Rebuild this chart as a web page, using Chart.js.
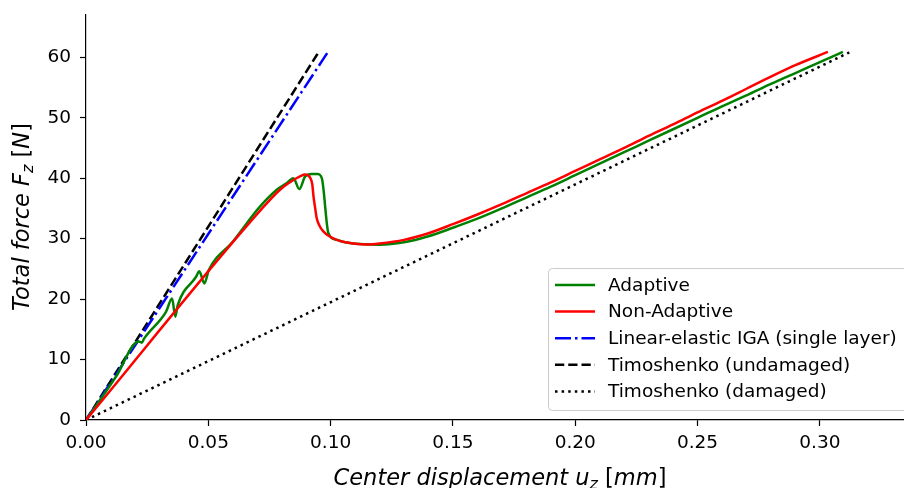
<!DOCTYPE html>
<html>
<head>
<meta charset="utf-8">
<script src="https://cdn.jsdelivr.net/npm/chart.js@4.4.0/dist/chart.umd.min.js"></script>
<style>
  html, body { margin: 0; padding: 0; background: #fff; }
  #wrap { width: 904px; height: 488px; }
</style>
</head>
<body>
<div id="wrap"><canvas id="forceChart" width="904" height="488"></canvas></div>
<script>
// values (x in mm, y in N)
const adaptiveX = [0, 0.0123, 0.0215, 0.0228, 0.0238, 0.0327, 0.0352, 0.0365, 0.0375, 0.045, 0.0463, 0.0484, 0.0502,
  0.06, 0.0711, 0.078, 0.0821, 0.0848, 0.0872, 0.0896, 0.0923, 0.0946, 0.0964, 0.0991, 0.1025, 0.106, 0.112, 0.12,
  0.13, 0.14, 0.15, 0.16, 0.17, 0.18, 0.19, 0.20, 0.21, 0.22, 0.23, 0.24, 0.25, 0.26, 0.27, 0.28, 0.29, 0.30, 0.3094];
const adaptiveY = [0, 7.2, 13.0, 12.8, 13.5, 17.9, 20.1, 17.1, 19.0, 23.7, 24.6, 22.6, 24.8,
  29.5, 35.3, 38.1, 39.2, 40.0, 38.2, 40.3, 40.7, 40.7, 40.0, 30.9, 29.8, 29.4, 29.1, 29.0,
  29.4, 30.4, 31.8, 33.3, 35.0, 36.8, 38.6, 40.5, 42.4, 44.3, 46.2, 48.1, 50.0, 51.9, 53.7, 55.6, 57.4, 59.2, 60.9];

const nonAdaptiveX = [0, 0.072, 0.0793, 0.0848, 0.0875, 0.0896, 0.0916, 0.0925, 0.093, 0.0937, 0.0943, 0.0955, 0.097,
  0.0995, 0.1025, 0.106, 0.11, 0.115, 0.12, 0.13, 0.14, 0.15, 0.16, 0.17, 0.18, 0.19, 0.20, 0.21, 0.22, 0.23, 0.24,
  0.25, 0.26, 0.27, 0.28, 0.29, 0.3033];
const nonAdaptiveY = [0, 35.0, 38.1, 39.7, 40.3, 40.6, 40.1, 39.0, 37.0, 35.0, 33.4, 32.1, 31.2,
  30.4, 29.8, 29.4, 29.15, 29.05, 29.2, 29.8, 30.9, 32.4, 34.0, 35.7, 37.5, 39.3, 41.2, 43.1, 45.0, 47.0, 48.9,
  50.9, 52.8, 54.8, 56.8, 58.7, 60.9];

const igaX = [0, 0.0986];
const igaY = [0, 60.7];

const timoUndamagedX = [0, 0.095];
const timoUndamagedY = [0, 60.8];

const timoDamagedX = [0, 0.312];
const timoDamagedY = [0, 60.8];

const xTicks = [0, 0.05, 0.10, 0.15, 0.20, 0.25, 0.30];
const yTicks = [0, 10, 20, 30, 40, 50, 60];

const seriesLabels = ["Adaptive", "Non-Adaptive", "Linear-elastic IGA (single layer)",
  "Timoshenko (undamaged)", "Timoshenko (damaged)"];

const FONT = "'DejaVu Sans', 'Liberation Sans', sans-serif";
const LW = 2.5;
const TICK_SIZE = 18.5;

function toPoints(xs, ys) {
  return xs.map((x, i) => ({ x, y: ys[i] }));
}

function makeSet(label, xs, ys, color, dash, order) {
  return {
    label,
    data: toPoints(xs, ys),
    borderColor: color,
    backgroundColor: color,
    borderWidth: LW,
    borderDash: dash,
    borderCapStyle: "butt",
    borderJoinStyle: "round",
    pointRadius: 0,
    showLine: true,
    cubicInterpolationMode: "monotone",
    fill: false,
    order,
  };
}

const dashed = [9.25, 4];
const dashDot = [16, 4, 2.5, 4];
const dotted = [2.5, 4.1];

// matplotlib-like legend box in the lower right
const boxLegend = {
  id: "boxLegend",
  afterDraw(chart) {
    const ctx = chart.ctx;
    const x = 548, y = 268, w = 362, h = 142, r = 4;
    ctx.save();
    ctx.beginPath();
    ctx.roundRect(x + 0.5, y + 0.5, w, h, r);
    ctx.fillStyle = "rgba(255,255,255,0.8)";
    ctx.fill();
    ctx.strokeStyle = "#cccccc";
    ctx.lineWidth = 1;
    ctx.stroke();
    ctx.font = TICK_SIZE + "px " + FONT;
    ctx.textBaseline = "middle";
    ctx.textAlign = "left";
    chart.data.datasets.forEach((ds, i) => {
      const ry = 285 + i * 26.6;
      ctx.beginPath();
      ctx.setLineDash(ds.borderDash || []);
      ctx.lineCap = "butt";
      ctx.strokeStyle = ds.borderColor;
      ctx.lineWidth = LW;
      ctx.moveTo(555, ry);
      ctx.lineTo(595, ry);
      ctx.stroke();
      ctx.setLineDash([]);
      ctx.fillStyle = "#000";
      ctx.fillText(ds.label, 608, ry + 1);
    });
    ctx.restore();
  },
};

// axis titles with subscripts
function drawParts(ctx, parts, startX, y) {
  let cx = startX;
  parts.forEach((p) => {
    ctx.font = p.font;
    ctx.fillText(p.text, cx, y + (p.dy || 0));
    cx += ctx.measureText(p.text).width;
  });
}
function partsWidth(ctx, parts) {
  return parts.reduce((s, p) => {
    ctx.font = p.font;
    return s + ctx.measureText(p.text).width;
  }, 0);
}

const axisTitles = {
  id: "axisTitles",
  afterDraw(chart) {
    const ctx = chart.ctx;
    const big = "italic 22.5px " + FONT;
    const small = "italic 16px " + FONT;
    const plain = "22.5px " + FONT;
    ctx.save();
    ctx.fillStyle = "#000";
    ctx.textBaseline = "alphabetic";
    ctx.textAlign = "left";

    const xParts = [
      { text: "Center displacement u", font: big },
      { text: "z", font: small, dy: 4 },
      { text: " [", font: plain },
      { text: "mm", font: big },
      { text: "]", font: plain },
    ];
    const xw = partsWidth(ctx, xParts);
    drawParts(ctx, xParts, 500 - xw / 2, 485);

    const yParts = [
      { text: "Total force F", font: big },
      { text: "z", font: small, dy: 4 },
      { text: " [", font: plain },
      { text: "N", font: big },
      { text: "]", font: plain },
    ];
    const yw = partsWidth(ctx, yParts);
    ctx.translate(29, 217);
    ctx.rotate(-Math.PI / 2);
    drawParts(ctx, yParts, -yw / 2, 0);
    ctx.restore();
  },
};

new Chart(document.getElementById("forceChart"), {
  type: "scatter",
  data: {
    datasets: [
      makeSet(seriesLabels[0], adaptiveX, adaptiveY, "#008000", [], 2),
      makeSet(seriesLabels[1], nonAdaptiveX, nonAdaptiveY, "#ff0000", [], 1),
      makeSet(seriesLabels[2], igaX, igaY, "#0000ff", dashDot, 3),
      makeSet(seriesLabels[3], timoUndamagedX, timoUndamagedY, "#000000", dashed, 4),
      makeSet(seriesLabels[4], timoDamagedX, timoDamagedY, "#000000", dotted, 5),
    ],
  },
  options: {
    responsive: false,
    animation: false,
    devicePixelRatio: 1,
    layout: { padding: { top: 15, right: 0, left: 0, bottom: 0 } },
    plugins: {
      legend: { display: false },
      tooltip: { enabled: false },
    },
    scales: {
      x: {
        type: "linear",
        min: 0,
        max: 0.3344,
        afterFit: (scale) => {
          scale.height = 68;
          scale.paddingLeft = 0;
          scale.paddingRight = 0;
        },
        afterBuildTicks: (scale) => { scale.ticks = xTicks.map((v) => ({ value: v })); },
        ticks: {
          callback: (v) => Number(v).toFixed(2),
          font: { family: FONT, size: TICK_SIZE },
          color: "#000",
          padding: 6,
          maxRotation: 0,
        },
        grid: { drawOnChartArea: false, drawTicks: true, tickLength: 6, color: "#000", tickWidth: 1.2 },
        border: { display: true, color: "#000", width: 1.2 },
      },
      y: {
        type: "linear",
        min: 0,
        max: 67,
        afterFit: (scale) => {
          scale.width = 86;
          scale.paddingTop = 0;
          scale.paddingBottom = 0;
        },
        afterBuildTicks: (scale) => { scale.ticks = yTicks.map((v) => ({ value: v })); },
        ticks: {
          font: { family: FONT, size: TICK_SIZE },
          color: "#000",
          padding: 9,
        },
        grid: { drawOnChartArea: false, drawTicks: true, tickLength: 6, color: "#000", tickWidth: 1.2 },
        border: { display: true, color: "#000", width: 1.2 },
      },
    },
  },
  plugins: [boxLegend, axisTitles],
});
</script>
</body>
</html>
